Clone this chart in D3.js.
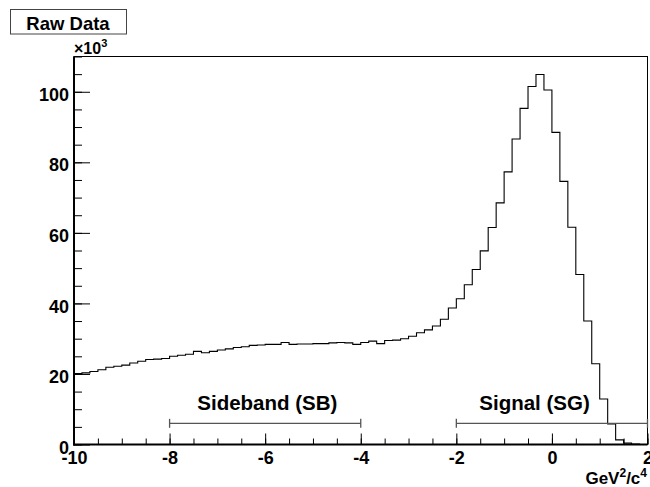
<!DOCTYPE html>
<html>
<head>
<meta charset="utf-8">
<script src="https://cdn.jsdelivr.net/npm/d3@7"></script>
<style>
  body { margin: 0; background: #fff; }
  svg { display: block; }
  text { font-family: "Liberation Sans", Arial, Helvetica, sans-serif; font-weight: bold; fill: #000; }
</style>
</head>
<body>
<svg id="chart" width="650" height="487"></svg>
<script>
// Histogram range and binning (GeV^2/c^4)
const xRange = [-10, 2];
const binCount = 72;

// Bin contents, events per bin
const counts = [
  20100, 20300, 20700, 21200, 21900, 22200, 22500, 23100, 23600, 24100,
  24200, 24400, 25000, 25300, 25600, 26400, 26000, 26400, 26800, 27100,
  27500, 27700, 28100, 28200, 28400, 28400, 28900, 28400, 28500, 28500,
  28600, 28600, 28800, 28900, 28800, 28400, 28900, 29300, 28600, 29500,
  29600, 30000, 30700, 31700, 32500, 33600, 35500, 38700, 41300, 45300,
  49600, 54900, 61500, 68500, 77300, 86600, 95300, 101500, 104900, 100500,
  88500, 74600, 61600, 48200, 35000, 22900, 12900, 5800, 1300, 400,
  100, 0
];

// Axis ticks
const xMajorTicks = [-10, -8, -6, -4, -2, 0, 2];
const yMajorTicks = [0, 20000, 40000, 60000, 80000, 100000];
const yMax = 110000;

// Selection windows drawn under the spectrum
const regionNames = ["Sideband (SB)", "Signal (SG)"];
const regionFrom = [-8, -2];
const regionTo = [-4, 2];
const regionLabelStart = [-7.42, -1.52];
const regionLevel = 6000;

const titleText = "Raw Data";

const svg = d3.select("#chart");
const frame = { left: 74, right: 647.5, top: 56.5, bottom: 444.5 };

const x = d3.scaleLinear().domain(xRange).range([frame.left, frame.right]);
const y = d3.scaleLinear().domain([0, yMax]).range([frame.bottom, frame.top]);

const binWidth = (xRange[1] - xRange[0]) / binCount;
const edges = d3.range(binCount + 1).map(i => xRange[0] + i * binWidth);

// Frame
svg.append("rect")
  .attr("x", frame.left).attr("y", frame.top)
  .attr("width", frame.right - frame.left).attr("height", frame.bottom - frame.top)
  .attr("fill", "none").attr("stroke", "#000").attr("stroke-width", 1);

// Histogram outline
const stepPts = counts.map((c, i) => [edges[i], c]);
stepPts.push([edges[binCount], counts[binCount - 1]]);
svg.append("path")
  .datum(stepPts)
  .attr("fill", "none")
  .attr("stroke", "#000")
  .attr("stroke-width", 1.1)
  .attr("d", d3.line().x(d => x(d[0])).y(d => y(d[1])).curve(d3.curveStepAfter));

// Region bars and labels
regionNames.forEach((name, i) => {
  const g = svg.append("g").attr("stroke", "#555").attr("stroke-width", 1.3);
  const yl = y(regionLevel);
  g.append("line").attr("x1", x(regionFrom[i])).attr("x2", x(regionTo[i])).attr("y1", yl).attr("y2", yl);
  [regionFrom[i], regionTo[i]].forEach(v => {
    g.append("line").attr("x1", x(v)).attr("x2", x(v)).attr("y1", yl - 4.5).attr("y2", yl + 4.5);
  });
  svg.append("text")
    .attr("x", x(regionLabelStart[i]))
    .attr("y", 409.5)
    .attr("font-size", "20.5px")
    .text(name);
});

// Y axis: minor and major ticks pointing into the frame
const yMinor = d3.range(0, yMax + 1, 5000);
svg.append("g")
  .attr("transform", `translate(${frame.left},0)`)
  .call(d3.axisLeft(y).tickValues(yMinor).tickSize(-8).tickSizeOuter(0).tickFormat(""))
  .call(g => g.select(".domain").remove());
svg.append("g")
  .attr("transform", `translate(${frame.left},0)`)
  .call(d3.axisLeft(y).tickValues(yMajorTicks).tickSize(-16).tickSizeOuter(0).tickPadding(5)
    .tickFormat(d => d / 1000))
  .call(g => g.select(".domain").remove())
  .call(g => g.selectAll("text")
    .attr("font-size", "18px").attr("font-family", null).attr("fill", "#000")
    .attr("dy", "0.48em"));

// X axis: minor and major ticks pointing into the frame
const xMinor = d3.range(xRange[0], xRange[1] + 0.001, 0.5);
svg.append("g")
  .attr("transform", `translate(0,${frame.bottom})`)
  .call(d3.axisBottom(x).tickValues(xMinor).tickSize(-6).tickSizeOuter(0).tickFormat(""))
  .call(g => g.select(".domain").remove());
svg.append("g")
  .attr("transform", `translate(0,${frame.bottom})`)
  .call(d3.axisBottom(x).tickValues(xMajorTicks).tickSize(-11).tickSizeOuter(0)
    .tickFormat(d => d))
  .call(g => g.select(".domain").remove())
  .call(g => g.selectAll("text")
    .attr("font-size", "18px").attr("font-family", null).attr("fill", "#000")
    .attr("y", 19).attr("dy", 0));

svg.selectAll(".tick line").attr("stroke", "#000");

// Axis lines
svg.append("line").attr("x1", frame.left).attr("x2", frame.left)
  .attr("y1", frame.top).attr("y2", frame.bottom + 1)
  .attr("stroke", "#000").attr("stroke-width", 2);
svg.append("line").attr("x1", frame.left - 1).attr("x2", frame.right)
  .attr("y1", frame.bottom).attr("y2", frame.bottom)
  .attr("stroke", "#000").attr("stroke-width", 2);

// Exponent marker
const expo = svg.append("text").attr("x", frame.left).attr("y", 53.5).attr("font-size", "16px");
expo.append("tspan").text("\u00d710");
expo.append("tspan").attr("font-size", "11px").attr("dy", -6.5).text("3");

// X axis title
const xt = svg.append("text").attr("x", 647).attr("y", 483.5).attr("text-anchor", "end").attr("font-size", "17px");
xt.append("tspan").text("GeV");
xt.append("tspan").attr("font-size", "12px").attr("dy", -6.5).text("2");
xt.append("tspan").attr("dy", 6.5).text("/c");
xt.append("tspan").attr("font-size", "12px").attr("dy", -6.5).text("4");

// Title box
svg.append("rect").attr("x", 10.5).attr("y", 9.5).attr("width", 116).attr("height", 24.5)
  .attr("fill", "#fff").attr("stroke", "#444").attr("stroke-width", 1);
svg.append("text").attr("x", 68).attr("y", 29.5).attr("text-anchor", "middle")
  .attr("font-size", "18.5px").text(titleText);
</script>
</body>
</html>
